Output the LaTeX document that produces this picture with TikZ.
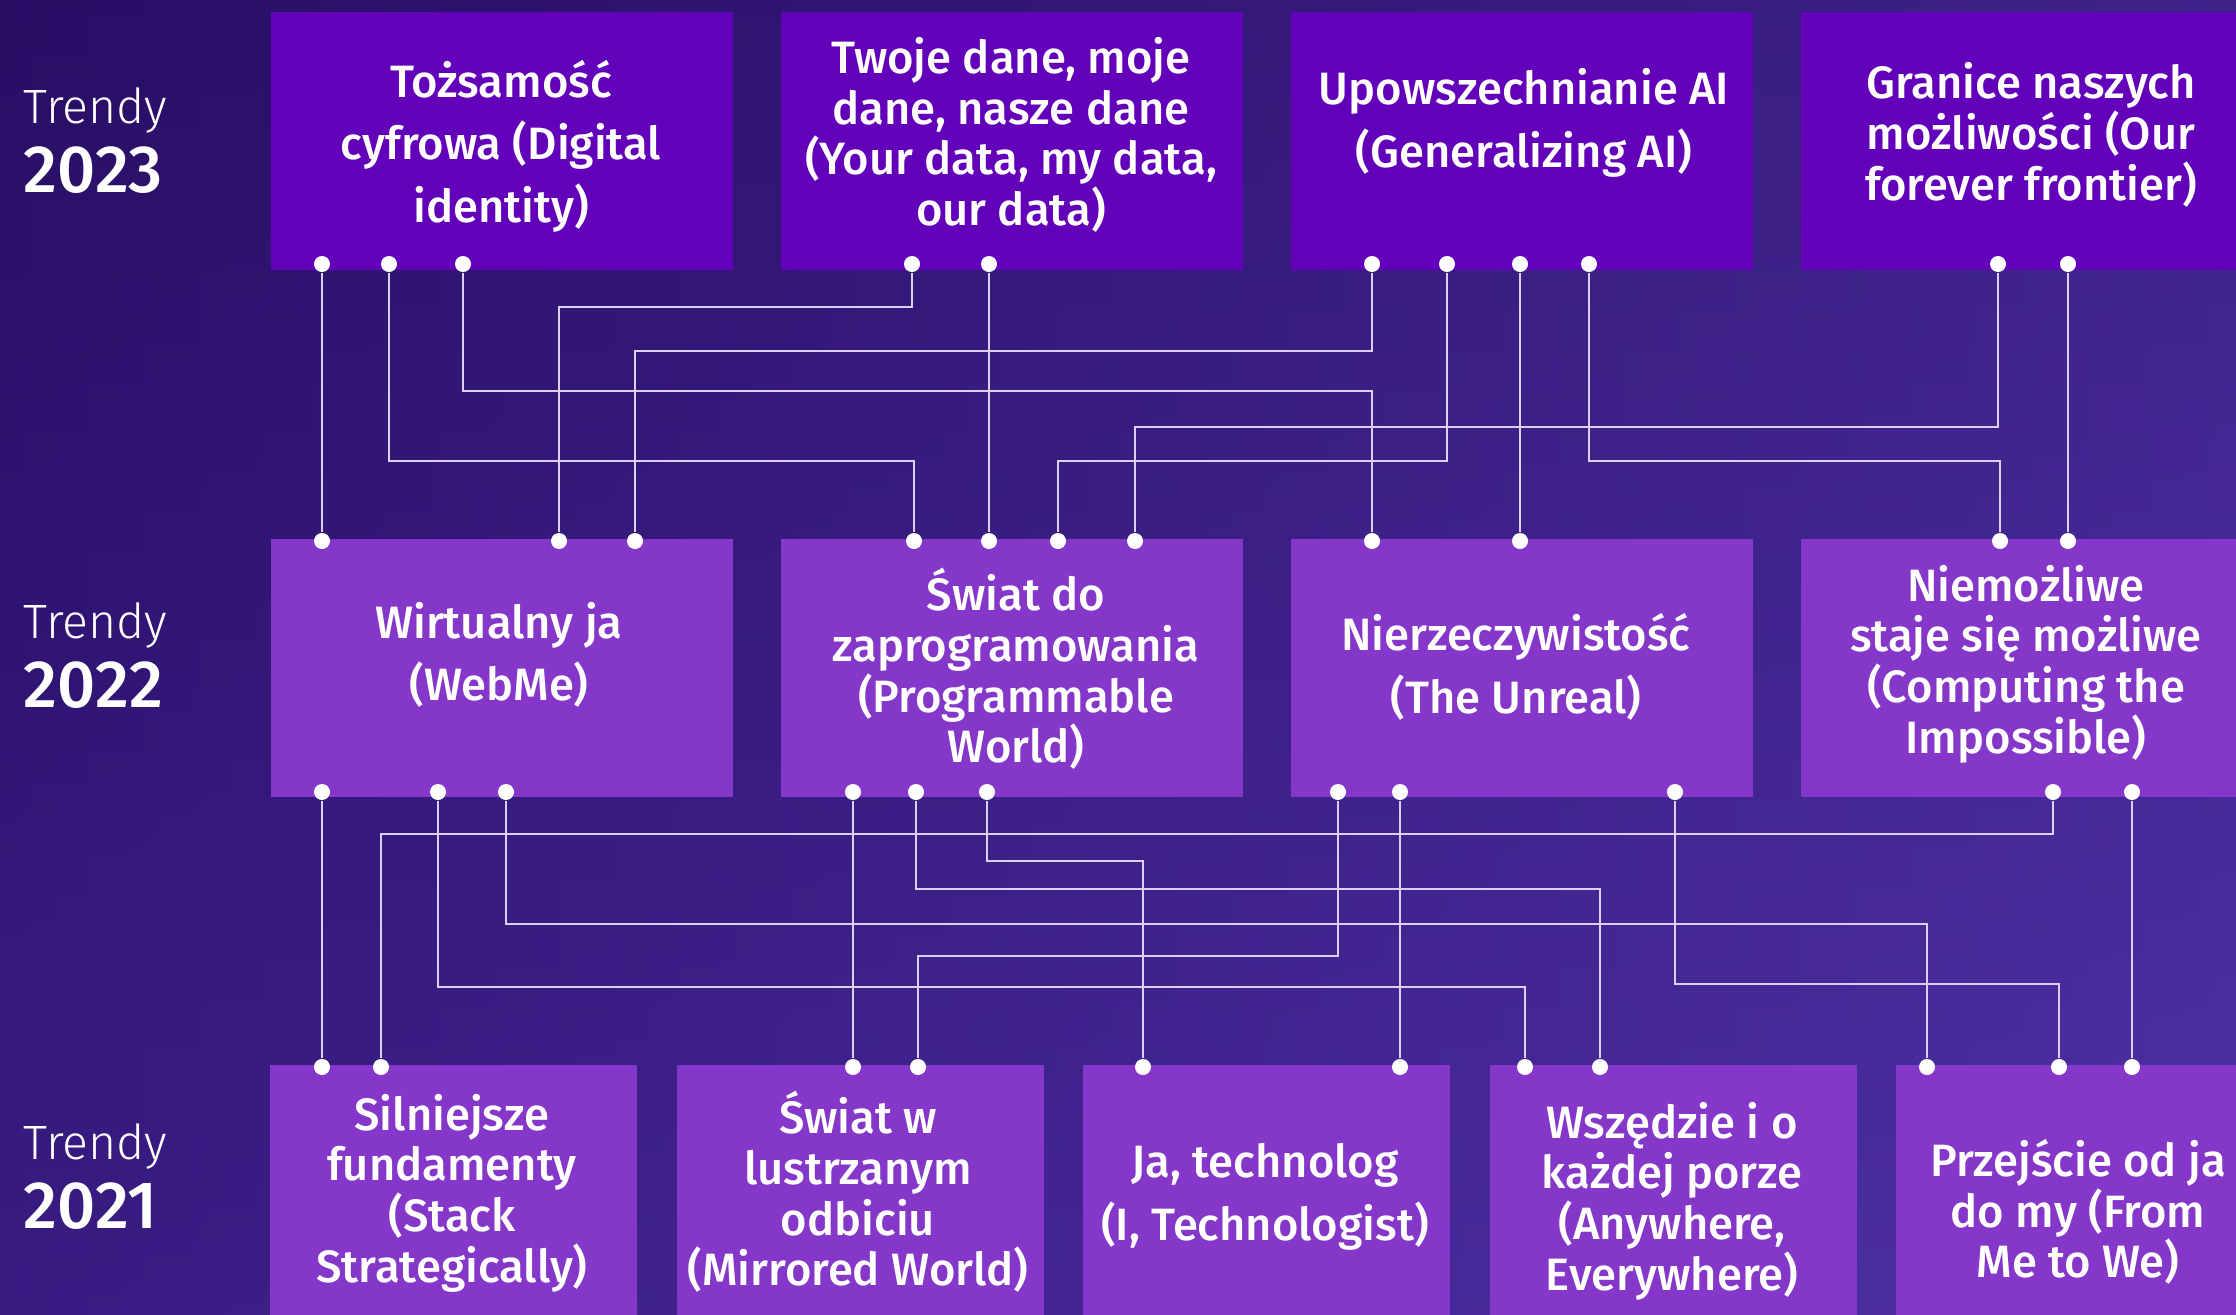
\documentclass[tikz,border=0pt]{standalone}
\usepackage{fontspec}
\setmainfont{Fira Sans}
\newfontfamily\mediumfont{Fira Sans Medium}
\newfontfamily\lightfont{Fira Sans Light}
\usepackage{tikz}
\definecolor{bgleft}{HTML}{2B0F6A}
\definecolor{bgright}{HTML}{5235AA}
\definecolor{bgtop}{HTML}{260C60}
\definecolor{bgbottom}{HTML}{4A2CA0}
\definecolor{boxnew}{HTML}{6300B9}
\definecolor{boxold}{HTML}{8537C9}
\definecolor{wirecol}{HTML}{DCD0F2}
\newcommand{\widelines}[0]{\fontsize{12.9}{17.8}\selectfont}
\newcommand{\tightlines}[0]{\fontsize{12.9}{14.4}\selectfont}

\begin{document}
\begin{tikzpicture}[x=0.01cm, y=-0.01cm]
  \tikzset{
    box23/.style={fill=boxnew, anchor=north west, inner sep=0pt,
      minimum width=4.62cm, minimum height=2.58cm},
    box22/.style={box23, fill=boxold},
    box21/.style={box22, minimum width=3.67cm},
    title/.style={text=white, align=center, font=\mediumfont\widelines},
    titletight/.style={title, font=\mediumfont\tightlines},
    jack/.style={circle, fill=white, inner sep=0pt, minimum size=0.16cm},
    wire/.style={draw=wirecol, line width=0.6pt},
    trendlab/.style={text=white, anchor=base west, inner sep=0pt,
      font=\lightfont\fontsize{13.7}{16}\selectfont},
    yearlab/.style={text=white, anchor=base west, inner sep=0pt,
      font=\mediumfont\fontsize{19}{22}\selectfont}
  }
  \useasboundingbox (0,0) rectangle (2236,1315);
  \clip (0,0) rectangle (2236,1315);
  \shade[left color=bgleft, right color=bgright] (0,0) rectangle (2236,1315);
  \shade[top color=bgtop, bottom color=bgbottom, opacity=0.45] (0,0) rectangle (2236,1315);

  % year labels
  \node[trendlab] (tr23) at (23,123) {Trendy};
  \node[yearlab] (yr23) at (23,192) {2023};
  \node[trendlab] (tr22) at (23,638) {Trendy};
  \node[yearlab] (yr22) at (23,707) {2022};
  \node[trendlab] (tr21) at (23,1159) {Trendy};
  \node[yearlab] (yr21) at (23,1228) {2021};

  % 2023
  \node[box23] (id23) at (270,11) {};
  \node[box23] (data23) at (780,11) {};
  \node[box23] (ai23) at (1290,11) {};
  \node[box23] (edge23) at (1800,11) {};
  \node[title] (id23txt) at (501,146) {Tożsamość\\cyfrowa (Digital\\identity)};
  \node[titletight] (data23txt) at (1011,135) {Twoje dane, moje\\dane, nasze dane\\(Your data, my data,\\our data)};
  \node[title] (ai23txt) at (1524,123) {Upowszechnianie AI\\(Generalizing AI)};
  \node[titletight] (edge23txt) at (2031,135) {Granice naszych\\możliwości (Our\\forever frontier)};

  % 2022
  \node[box22] (webme22) at (270,538) {};
  \node[box22] (prog22) at (780,538) {};
  \node[box22] (unreal22) at (1290,538) {};
  \node[box22] (imposs22) at (1800,538) {};
  \node[title] (webme22txt) at (499,655) {Wirtualny ja\\(WebMe)};
  \node[titletight] (prog22txt) at (1016,669) {Świat do\\zaprogramowania\\(Programmable\\World)};
  \node[title] (unreal22txt) at (1516,667) {Nierzeczywistość\\(The Unreal)};
  \node[titletight] (imposs22txt) at (2026,664) {Niemożliwe\\staje się możliwe\\(Computing the\\Impossible)};

  % 2021
  \node[box21] (stack21) at (269,1064) {};
  \node[box21] (mirror21) at (676,1064) {};
  \node[box21] (techno21) at (1082,1064) {};
  \node[box21] (anywh21) at (1489,1064) {};
  \node[box21] (mewe21) at (1895,1064) {};
  \node[titletight] (stack21txt) at (452,1193) {Silniejsze\\fundamenty\\(Stack\\Strategically)};
  \node[titletight] (mirror21txt) at (858,1192) {Świat w\\lustrzanym\\odbiciu\\(Mirrored World)};
  \node[title] (techno21txt) at (1265,1197) {Ja, technolog\\(I, Technologist)};
  \node[titletight] (anywh21txt) at (1672,1201) {Wszędzie i o\\każdej porze\\(Anywhere,\\Everywhere)};
  \node[titletight] (mewe21txt) at (2078,1212) {Przejście od ja\\do my (From\\Me to We)};

  % pins
  \foreach \n/\x in {id23p1/322, id23p2/389, id23p3/463, data23p1/912, data23p2/989,
      ai23p1/1372, ai23p2/1447, ai23p3/1520, ai23p4/1589, edge23p1/1998, edge23p2/2068}
    \node[jack] (\n) at (\x,264) {};
  \foreach \n/\x in {webme22t1/322, webme22t2/559, webme22t3/635, prog22t1/914, prog22t2/989,
      prog22t3/1058, prog22t4/1135, unreal22t1/1372, unreal22t2/1520, imposs22t1/2000, imposs22t2/2068}
    \node[jack] (\n) at (\x,541) {};
  \foreach \n/\x in {webme22b1/322, webme22b2/438, webme22b3/506, prog22b1/853, prog22b2/916,
      prog22b3/987, unreal22b1/1338, unreal22b2/1400, unreal22b3/1675, imposs22b1/2053, imposs22b2/2132}
    \node[jack] (\n) at (\x,792) {};
  \foreach \n/\x in {stack21p1/322, stack21p2/381, mirror21p1/853, mirror21p2/918, techno21p1/1143,
      techno21p2/1400, anywh21p1/1525, anywh21p2/1600, mewe21p1/1927, mewe21p2/2059, mewe21p3/2132}
    \node[jack] (\n) at (\x,1067) {};

  % 2023 -> 2022
  \draw[wire] (id23p1) -- (webme22t1);
  \draw[wire] (id23p2) -- (id23p2 |- 0,461) -| (prog22t1);
  \draw[wire] (id23p3) -- (id23p3 |- 0,391) -| (unreal22t1);
  \draw[wire] (data23p1) -- (data23p1 |- 0,307) -| (webme22t2);
  \draw[wire] (data23p2) -- (prog22t2);
  \draw[wire] (ai23p1) -- (ai23p1 |- 0,351) -| (webme22t3);
  \draw[wire] (ai23p2) -- (ai23p2 |- 0,461) -| (prog22t3);
  \draw[wire] (ai23p3) -- (unreal22t2);
  \draw[wire] (ai23p4) -- (ai23p4 |- 0,461) -| (imposs22t1);
  \draw[wire] (edge23p1) -- (edge23p1 |- 0,427) -| (prog22t4);
  \draw[wire] (edge23p2) -- (imposs22t2);

  % 2022 -> 2021
  \draw[wire] (webme22b1) -- (stack21p1);
  \draw[wire] (webme22b2) -- (webme22b2 |- 0,987) -| (anywh21p1);
  \draw[wire] (webme22b3) -- (webme22b3 |- 0,924) -| (mewe21p1);
  \draw[wire] (prog22b1) -- (mirror21p1);
  \draw[wire] (prog22b2) -- (prog22b2 |- 0,889) -| (anywh21p2);
  \draw[wire] (prog22b3) -- (prog22b3 |- 0,861) -| (techno21p1);
  \draw[wire] (unreal22b1) -- (unreal22b1 |- 0,956) -| (mirror21p2);
  \draw[wire] (unreal22b2) -- (techno21p2);
  \draw[wire] (unreal22b3) -- (unreal22b3 |- 0,984) -| (mewe21p2);
  \draw[wire] (imposs22b1) -- (imposs22b1 |- 0,834) -| (stack21p2);
  \draw[wire] (imposs22b2) -- (mewe21p3);
\end{tikzpicture}
\end{document}
